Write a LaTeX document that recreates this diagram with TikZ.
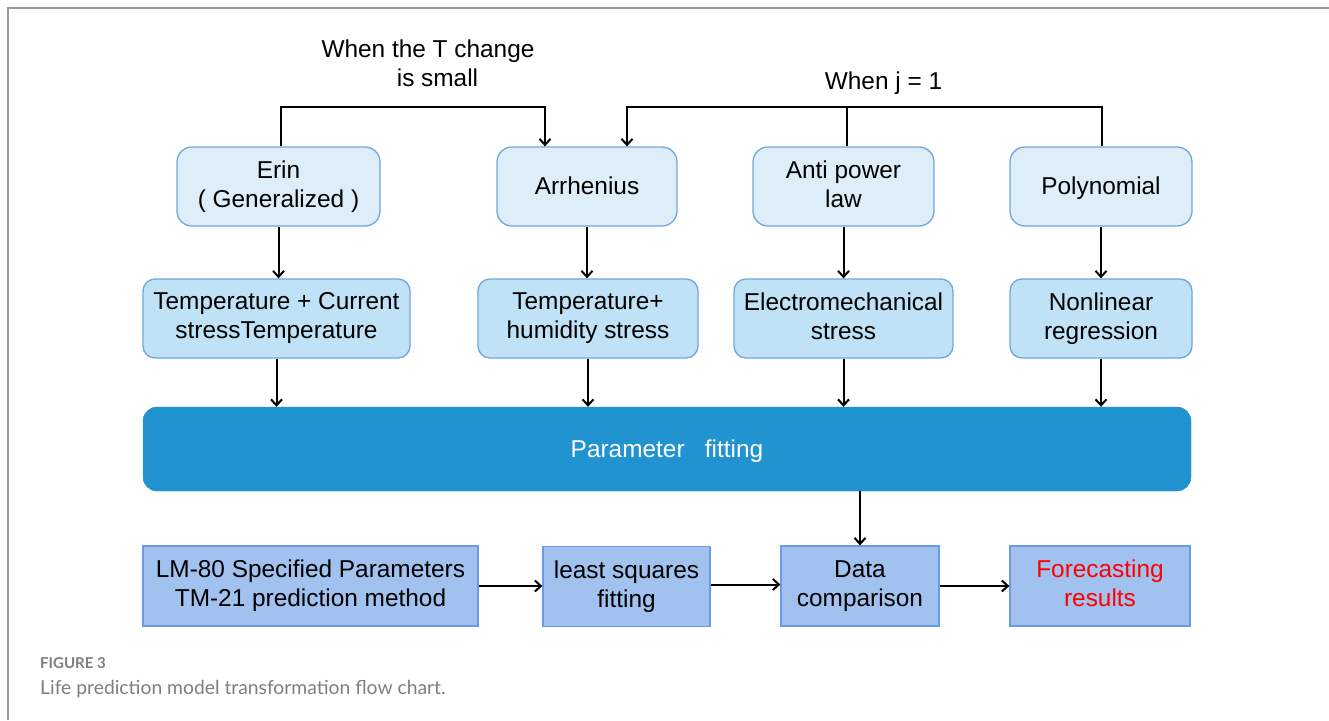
\documentclass[tikz,border=0pt]{standalone}
\usepackage{fontspec}
\setmainfont{Liberation Sans}
\newfontfamily\capfont{Lato}
\usetikzlibrary{arrows.meta}
\definecolor{frame}{HTML}{9A9A9A}
\definecolor{boxA}{HTML}{DDEEF9}
\definecolor{boxB}{HTML}{BFE2F6}
\definecolor{edgeA}{HTML}{6FA6DE}
\definecolor{param}{HTML}{2093D0}
\definecolor{boxC}{HTML}{A1C1EE}
\definecolor{edgeC}{HTML}{6A9BE6}
\definecolor{captxt}{HTML}{7F7F7F}
\newcommand{\topstrut}[1]{\rule{0pt}{#1}}
\newcommand{\botstrut}{\rule[-5.2pt]{0pt}{5.2pt}}
\tikzset{
  base/.style={inner sep=0pt, align=center, font=\fontsize{24.4}{29}\selectfont, text=black,
    execute at begin node=\topstrut{22.1pt}, execute at end node=\botstrut},
  modelbox/.style={base, draw=edgeA, fill=boxA, line width=1.3pt, rounded corners=15pt, minimum height=79pt},
  stressbox/.style={base, draw=edgeA, fill=boxB, line width=1.3pt, rounded corners=12pt, minimum height=79pt},
  parambox/.style={base, fill=param, draw=param, rounded corners=14pt, minimum width=1048pt, minimum height=84pt, text=white,
    execute at begin node=\topstrut{19.2pt}},
  flowbox/.style={base, draw=edgeC, fill=boxC, line width=1.3pt, minimum height=80pt,
    execute at begin node=\topstrut{26.2pt}},
  arr/.style={line width=2pt, -{Straight Barb[length=6pt,width=11pt,line width=2pt]}},
  conn/.style={line width=2pt},
  lbl/.style={base}
}
\begin{document}
\begin{tikzpicture}[x=1pt,y=-1pt]
\useasboundingbox (0,0) rectangle (1329,720);
\fill[white] (0,0) rectangle (1329,720);
\draw[frame, line width=2pt] (7.5,720) -- (7.5,7.5) -- (1329,7.5);

% row 1
\node[modelbox, minimum width=203pt] (erin) at (278.5,186.5) {Erin\\( Generalized )};
\node[modelbox, minimum width=180pt] (arrh) at (587,186.5) {Arrhenius};
\node[modelbox, minimum width=181pt] (anti) at (843.5,186.5) {Anti power\\law};
\node[modelbox, minimum width=182pt] (poly) at (1101,186.5) {Polynomial};

% row 2
\node[stressbox, minimum width=267pt] (tc) at (276.5,318.5) {Temperature + Current\\stressTemperature};
\node[stressbox, minimum width=220pt] (th) at (588,318.5) {Temperature+\\humidity stress};
\node[stressbox, minimum width=219pt] (em) at (843.5,318.5) {Electromechanical\\stress};
\node[stressbox, minimum width=182pt] (nr) at (1101,318.5) {Nonlinear\\regression};

% parameter fitting
\node[parambox] (pf) at (667,449) {Parameter \ \ fitting};

% row 3
\node[flowbox, minimum width=335pt] (lm) at (310.5,586) {LM-80 Specified Parameters\\TM-21 prediction method};
\node[flowbox, minimum width=167pt] (ls) at (626.5,586.5) {least squares\\fitting};
\node[flowbox, minimum width=158pt] (dc) at (860,586) {Data\\comparison};
\node[flowbox, minimum width=180pt, text=red] (fr) at (1100,586) {Forecasting\\results};

% top labels
\node[lbl] (lblT) at (428,66) {When the T change\\\hspace*{19pt}is small};
\node[lbl] (lblJ) at (883.5,81.5) {When j = 1};

% top connectors
\draw[arr] ([xshift=2.5pt]erin.north) -- ++(0,-39) -| ([xshift=-42pt]arrh.north);
\draw[arr] ([xshift=1pt]poly.north) -- ++(0,-39) -| ([xshift=40pt]arrh.north);
\draw[conn] ([xshift=3.5pt]anti.north) -- ++(0,-39);

% row1 -> row2
\draw[arr] (erin.south) -- (erin.south |- tc.north);
\draw[arr] (arrh.south) -- (arrh.south |- th.north);
\draw[arr] (anti.south) -- (anti.south |- em.north);
\draw[arr] (poly.south) -- (poly.south |- nr.north);

% row2 -> parameter fitting
\draw[arr] (tc.south) -- (tc.south |- pf.north);
\draw[arr] (th.south) -- (th.south |- pf.north);
\draw[arr] (em.south) -- (em.south |- pf.north);
\draw[arr] (nr.south) -- (nr.south |- pf.north);

% parameter fitting -> data comparison
\draw[arr] (dc.north |- pf.south) -- (dc.north);

% bottom flow
\draw[arr] (lm.east) -- (ls.west |- lm.east);
\draw[arr] ([yshift=2pt]ls.east) -- ([yshift=2pt]ls.east -| dc.west);
\draw[arr] (dc.east) -- (fr.west);

% caption
\node[anchor=west, inner sep=0pt, text=captxt, font=\capfont\bfseries\fontsize{15}{17}\selectfont] (figno) at (40,663) {FIGURE 3};
\node[anchor=west, inner sep=0pt, text=captxt, font=\capfont\fontsize{19.3}{21}\selectfont] (cap) at (40,689) {Life prediction model transformation flow chart.};
\end{tikzpicture}
\end{document}
